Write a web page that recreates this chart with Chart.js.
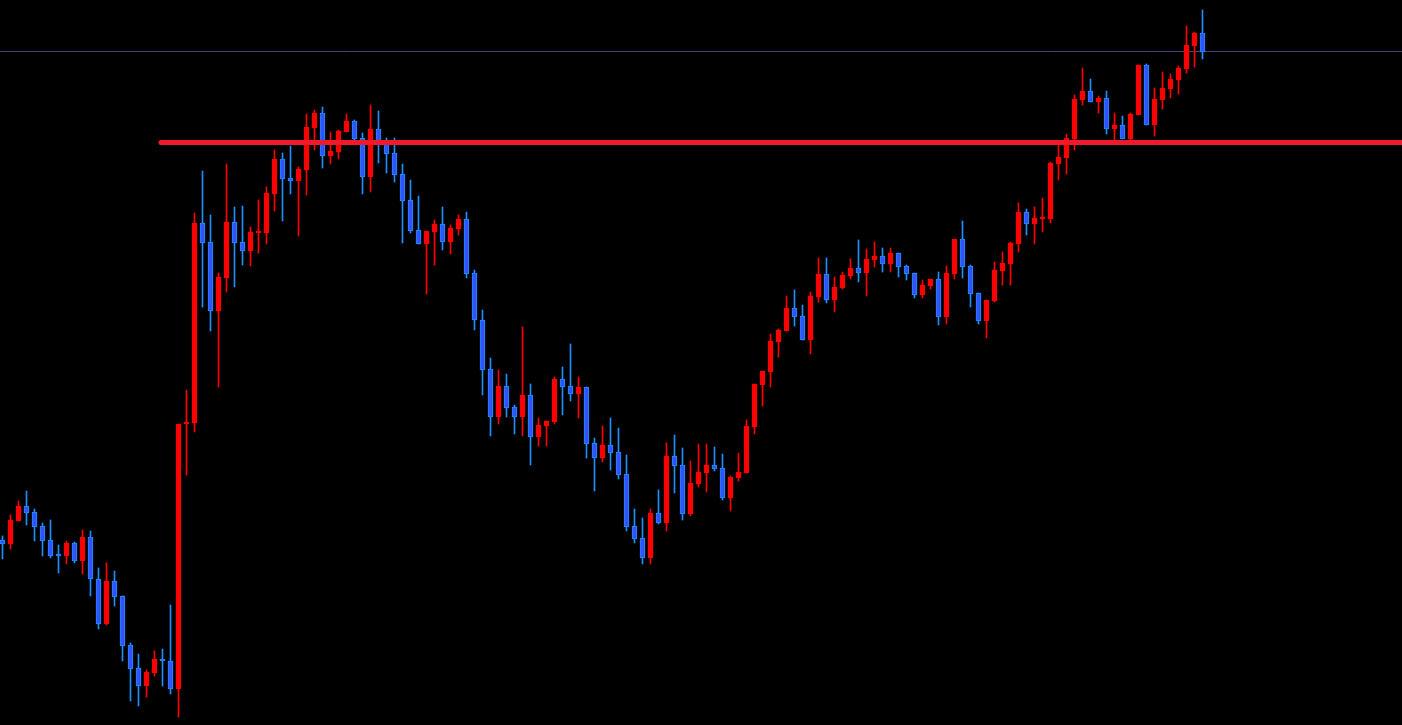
<!DOCTYPE html>
<html>
<head>
<meta charset="utf-8">
<script src="https://cdn.jsdelivr.net/npm/chart.js@4.4.1/dist/chart.umd.min.js"></script>
<style>
  html, body { margin: 0; padding: 0; background: #000; overflow: hidden; }
  #chart { display: block; background: #000; }
</style>
</head>
<body>
<canvas id="chart" width="1402" height="725"></canvas>
<script>
const opens = [
  185,181,204,219,213,199,185,170,169,182,164,188,146,101,144,129,80,57,39,52,
  66,64,36,301,302,502,483,414,447,503,483,474,492,492,531,566,547,544,555,597,
  612,569,573,593,604,587,548,596,583,572,551,525,495,481,493,501,483,496,506,452,
  405,356,308,339,318,308,330,288,299,303,346,339,331,338,282,267,280,273,251,199,
  187,167,212,202,269,260,211,241,252,260,257,227,247,252,298,340,353,383,394,417,
  409,385,428,451,425,437,449,457,452,465,469,461,472,459,452,430,439,446,408,451,
  486,459,432,404,424,454,461,481,513,501,506,506,561,567,586,625,634,623,627,596,
  600,586,610,660,600,625,636,645,656,679,692
];
const highs = [
  189,210,224,234,216,202,205,180,184,183,195,194,157,162,154,129,82,71,55,74,
  76,120,301,335,512,554,510,452,561,518,519,498,525,538,575,572,579,558,611,615,
  618,593,595,611,605,592,620,614,587,587,561,545,529,494,505,518,500,510,513,455,
  415,367,355,351,320,398,341,307,304,348,358,381,348,338,287,299,307,297,270,216,
  207,216,235,282,290,277,264,281,281,278,271,249,272,305,341,354,391,396,429,435,
  420,433,467,467,448,453,466,485,476,483,477,477,472,460,452,445,446,453,459,486,
  504,460,432,425,463,473,483,522,516,518,527,563,581,591,630,657,646,629,634,612,
  609,612,660,661,637,653,651,659,699,693,715
];
const lows = [
  166,176,204,200,184,169,167,152,161,162,151,129,96,100,119,64,24,19,28,49,
  39,31,8,250,293,418,394,338,433,438,460,459,472,481,514,504,531,489,530,575,
  557,561,566,593,585,531,533,562,552,543,482,492,481,431,460,475,471,490,447,395,
  330,289,301,308,291,289,260,279,279,301,310,324,307,267,234,263,255,246,194,182,
  161,161,201,194,232,205,209,238,233,254,225,214,244,252,291,319,338,368,394,399,
  385,371,423,422,413,436,446,443,429,458,453,453,448,445,427,427,436,400,401,446,
  447,418,401,387,423,440,440,473,490,481,493,502,545,551,575,620,623,612,591,585,
  586,585,610,600,589,616,627,631,652,658,666
];
const closes = [
  181,205,219,212,198,184,169,169,182,164,188,146,101,144,128,79,56,39,53,66,
  64,36,301,303,502,482,414,448,503,482,474,493,493,532,566,546,544,556,598,612,
  569,574,594,604,586,548,596,581,571,550,524,494,481,494,501,483,497,506,451,405,
  355,308,339,317,308,330,288,300,304,346,338,331,338,281,267,280,272,250,198,186,
  167,212,202,269,259,211,242,253,260,256,227,248,253,299,341,354,384,395,417,408,
  385,429,451,425,438,450,457,452,466,469,461,472,458,451,430,440,446,408,452,486,
  458,431,404,425,455,462,482,513,501,507,507,562,568,587,626,634,623,627,596,600,
  586,611,660,600,626,637,646,657,680,692,673
];

// horizontal levels drawn on the chart
const resistanceLevel = 582.5;
const resistanceStart = 19.8;
const topLevel = 673.5;

const xMin = -0.3125;
const xMax = 174.9375;

const RED = '#ff0000';
const BLUE_FILL = '#3052ff';
const BLUE_EDGE = '#1e8fff';

const isUp = (i) => closes[i] > opens[i];

const wicks = opens.map((o, i) => ({ x: i, y: [lows[i], highs[i]] }));
const bodies = opens.map((o, i) => ({ x: i, y: [o, closes[i]] }));

const ctx = document.getElementById('chart').getContext('2d');

new Chart(ctx, {
    type: 'bar',
    data: {
        datasets: [
            {
                type: 'line',
                data: [{ x: resistanceStart, y: resistanceLevel }, { x: xMax + 1, y: resistanceLevel }],
                borderColor: '#f01a2c',
                borderWidth: 5,
                borderCapStyle: 'round',
                pointRadius: 0,
                clip: false,
                order: 0
            },
            {
                data: bodies,
                backgroundColor: bodies.map((d, i) => isUp(i) ? RED : BLUE_FILL),
                borderColor: bodies.map((d, i) => isUp(i) ? RED : BLUE_EDGE),
                borderWidth: 1,
                borderSkipped: false,
                barThickness: 5,
                minBarLength: 2,
                grouped: false,
                order: 1
            },
            {
                data: wicks,
                backgroundColor: wicks.map((d, i) => isUp(i) ? RED : BLUE_EDGE),
                borderWidth: 0,
                barThickness: 1,
                grouped: false,
                order: 2
            },
            {
                type: 'line',
                data: [{ x: xMin, y: topLevel }, { x: xMax, y: topLevel }],
                borderColor: '#4a4278',
                borderWidth: 1,
                pointRadius: 0,
                order: 3
            }
        ]
    },
    options: {
        responsive: false,
        animation: false,
        devicePixelRatio: 1,
        layout: { padding: 0 },
        plugins: {
            legend: { display: false },
            tooltip: { enabled: false }
        },
        scales: {
            x: { type: 'linear', min: xMin, max: xMax, offset: false, grace: 0, display: false },
            y: { type: 'linear', min: 0, max: 725, display: false }
        }
    }
});
</script>
</body>
</html>
